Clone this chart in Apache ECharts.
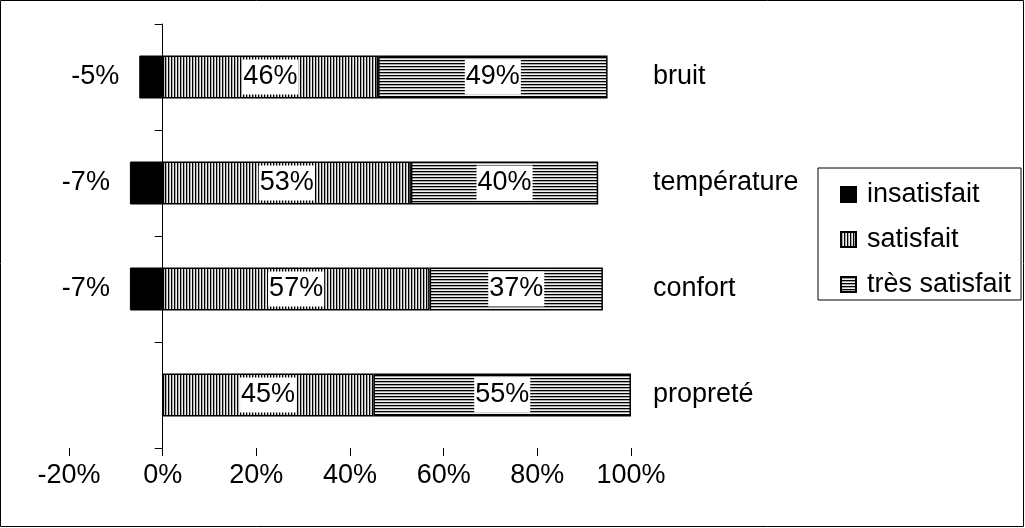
<!DOCTYPE html>
<html>
<head>
<meta charset="utf-8">
<script src="https://cdn.jsdelivr.net/npm/echarts@6/dist/echarts.min.js"></script>
<style>
  html, body { margin: 0; padding: 0; background: #fff; }
  #chart { width: 1025px; height: 528px; }
</style>
</head>
<body>
<div id="chart"></div>
<script>
const categories = ['bruit', 'température', 'confort', 'propreté']
const insatisfait = [-5, -7, -7, null]
const satisfait = [46, 53, 57, 45]
const tresSatisfait = [49, 40, 37, 55]
const xTicks = { min: -20, max: 100, step: 20 }

// little striped tiles used as fill patterns
function stripes(vertical) {
  const c = document.createElement('canvas')
  c.width = 3
  c.height = 3
  const ctx = c.getContext('2d')
  const cols = ['#000000', '#a8a8a8', '#f0f0f0']
  cols.forEach((col, i) => {
    ctx.fillStyle = col
    if (vertical) ctx.fillRect(i, 0, 1, 3)
    else ctx.fillRect(0, i, 3, 1)
  })
  return { image: c, repeat: 'repeat' }
}

const font = 'Liberation Sans, Arial, sans-serif'
const fs = 27

const innerLabel = {
  show: true,
  position: 'inside',
  color: '#000',
  fontFamily: font,
  fontSize: fs,
  backgroundColor: '#fff',
  padding: [5, 1, 3, 1],
  formatter: p => p.value + '%'
}

let myChart = echarts.init(document.getElementById('chart'))

let option = {
  animation: false,
  textStyle: { fontFamily: font },
  graphic: [{
    type: 'rect',
    shape: { x: 0.5, y: 0.5, width: 1023, height: 526 },
    style: { fill: 'none', stroke: '#000', lineWidth: 1 }
  }],
  grid: { left: 69, right: 394, top: 24, bottom: 80 },
  legend: {
    orient: 'vertical',
    left: 818,
    top: 168,
    padding: [13, 10, 2, 22],
    itemGap: 18,
    itemWidth: 15,
    itemHeight: 15,
    borderColor: '#000',
    borderWidth: 1,
    textStyle: { fontSize: fs, fontFamily: font, color: '#000', padding: [0, 0, 0, 6] },
    data: [
      { name: 'insatisfait', icon: 'rect' },
      { name: 'satisfait', icon: 'rect' },
      { name: 'très satisfait', icon: 'rect' }
    ]
  },
  xAxis: {
    type: 'value',
    min: xTicks.min,
    max: xTicks.max,
    interval: xTicks.step,
    axisLine: { lineStyle: { color: '#000', width: 1 } },
    axisTick: { show: true, length: 8, lineStyle: { color: '#000' } },
    axisLabel: { formatter: '{value}%', color: '#000', fontSize: fs, fontFamily: font, margin: 14 },
    splitLine: { show: false }
  },
  yAxis: [
    {
      type: 'category',
      data: categories,
      inverse: true,
      axisLine: { onZero: true, lineStyle: { color: '#000', width: 1 } },
      axisTick: { show: true, length: 8, lineStyle: { color: '#000' } },
      axisLabel: { show: false }
    },
    {
      type: 'category',
      data: categories,
      inverse: true,
      position: 'right',
      axisLine: { show: false },
      axisTick: { show: false },
      axisLabel: { color: '#000', fontSize: fs, fontFamily: font, margin: 22, align: 'left' }
    }
  ],
  series: [
    {
      name: 'insatisfait',
      type: 'bar',
      stack: 'total',
      barWidth: 43,
      data: insatisfait,
      itemStyle: { color: '#000', borderColor: '#000', borderWidth: 1 },
      label: {
        show: true,
        position: 'left',
        distance: 20,
        color: '#000',
        fontFamily: font,
        fontSize: fs,
        formatter: p => p.value + '%'
      }
    },
    {
      name: 'satisfait',
      type: 'bar',
      stack: 'total',
      barWidth: 43,
      data: satisfait,
      itemStyle: { color: stripes(true), borderColor: '#000', borderWidth: 1.5 },
      label: innerLabel
    },
    {
      name: 'très satisfait',
      type: 'bar',
      stack: 'total',
      barWidth: 43,
      data: tresSatisfait,
      itemStyle: { color: stripes(false), borderColor: '#000', borderWidth: 1.5 },
      label: innerLabel
    }
  ]
}

myChart.setOption(option)
</script>
</body>
</html>
